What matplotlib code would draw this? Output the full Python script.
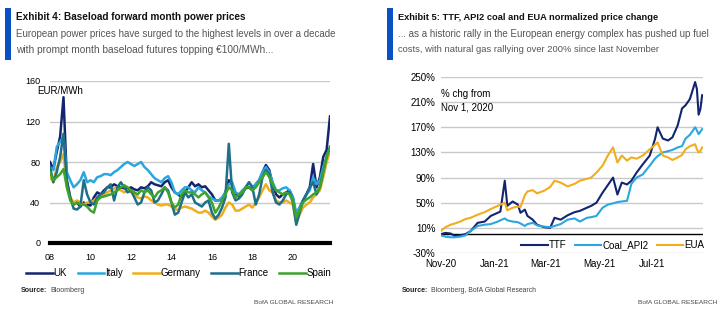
import matplotlib
matplotlib.use("Agg")
import matplotlib.pyplot as plt
import matplotlib.dates as mdates
import matplotlib.ticker as mticker
import numpy as np
import pandas as pd

# ---- Exhibit 4: baseload forward month power prices (bi-monthly, EUR/MWh) ----
POWER_START = 2008.0
POWER_STEP = 1 / 6
uk = [80, 73, 90, 105, 144, 62,
      45, 38, 40, 36, 40, 38,
      37, 45, 50, 48, 52, 55,
      55, 58, 56, 55, 54, 53,
      55, 53, 52, 55, 54, 56,
      60, 58, 57, 56, 60, 62,
      55, 50, 48, 45, 50, 55,
      60, 56, 58, 55, 56, 52,
      48, 42, 42, 44, 50, 62,
      58, 48, 46, 50, 54, 55,
      52, 58, 62, 70, 77, 72,
      58, 48, 45, 48, 50, 52,
      45, 26, 35, 42, 48, 55,
      78, 55, 65, 85, 92, 125]
italy = [75, 72, 95, 100, 105, 70,
         62, 55, 58, 62, 70, 60,
         62, 60, 65, 66, 68, 68,
         67, 70, 72, 75, 78, 80,
         78, 76, 78, 80, 75, 72,
         68, 64, 62, 60, 64, 66,
         60, 50, 48, 52, 55, 55,
         52, 50, 55, 52, 50, 46,
         44, 42, 42, 45, 50, 58,
         60, 50, 48, 52, 55, 60,
         55, 58, 62, 70, 75, 70,
         60, 52, 52, 54, 55, 52,
         45, 30, 35, 42, 48, 52,
         65, 58, 62, 75, 85, 92]
germany = [65, 60, 75, 80, 88, 55,
           45, 40, 42, 40, 38, 40,
           40, 42, 45, 47, 48, 50,
           52, 54, 55, 52, 50, 52,
           50, 48, 45, 44, 46, 45,
           42, 40, 38, 37, 38, 38,
           36, 33, 33, 35, 36, 35,
           34, 32, 30, 30, 32, 30,
           26, 23, 25, 28, 35, 40,
           38, 32, 32, 34, 36, 38,
           35, 40, 45, 52, 58, 52,
           50, 42, 40, 40, 42, 40,
           38, 20, 28, 35, 38, 40,
           45, 48, 52, 65, 80, 90]
france = [75, 60, 70, 85, 108, 60,
          45, 34, 33, 36, 62, 48,
          40, 38, 45, 48, 50, 55,
          58, 42, 55, 60, 55, 50,
          52, 45, 38, 40, 50, 55,
          52, 40, 42, 48, 55, 52,
          40, 28, 30, 40, 50, 45,
          48, 40, 38, 36, 40, 42,
          30, 24, 28, 35, 45, 98,
          50, 42, 44, 48, 55, 60,
          55, 38, 48, 65, 72, 68,
          50, 40, 38, 42, 48, 50,
          40, 18, 30, 42, 48, 55,
          60, 48, 55, 70, 85, 95]
spain = [70, 62, 65, 68, 73, 55,
         42, 38, 40, 38, 38, 36,
         32, 30, 42, 45, 46, 47,
         48, 50, 52, 55, 57, 55,
         52, 50, 48, 52, 50, 52,
         48, 45, 50, 52, 55, 50,
         40, 35, 38, 48, 52, 50,
         50, 48, 45, 48, 50, 45,
         40, 30, 35, 42, 48, 55,
         52, 45, 48, 50, 55, 55,
         52, 55, 60, 65, 70, 65,
         58, 52, 50, 48, 50, 48,
         42, 25, 32, 40, 43, 45,
         48, 50, 55, 70, 85, 95]
power_names = ["UK", "Italy", "Germany", "France", "Spain"]
power_ticks = [2008, 2010, 2012, 2014, 2016, 2018, 2020]
power_ticklabels = ["08", "10", "12", "14", "16", "18", "20"]

# ---- Exhibit 5: % change from Nov 1, 2020 ----
chg_dates = ["2020-11-01", "2020-11-06", "2020-11-12", "2020-11-17", "2020-11-23",
             "2020-11-29", "2020-12-05", "2020-12-13", "2020-12-21", "2020-12-28",
             "2021-01-05", "2021-01-08", "2021-01-13", "2021-01-16", "2021-01-22",
             "2021-01-28", "2021-01-31", "2021-02-05", "2021-02-08", "2021-02-14",
             "2021-02-19", "2021-02-27", "2021-03-06", "2021-03-11", "2021-03-18",
             "2021-03-26", "2021-04-03", "2021-04-09", "2021-04-17", "2021-04-22",
             "2021-04-28", "2021-05-05", "2021-05-11", "2021-05-17", "2021-05-22",
             "2021-05-27", "2021-06-02", "2021-06-07", "2021-06-13", "2021-06-20",
             "2021-06-28", "2021-07-04", "2021-07-07", "2021-07-13", "2021-07-19",
             "2021-07-24", "2021-07-30", "2021-08-04", "2021-08-08", "2021-08-13",
             "2021-08-19", "2021-08-21", "2021-08-23", "2021-08-25", "2021-08-27"]
ttf = [0, 2, 1, -3, -2, 0, 5, 18, 20, 29,
       34, 36, 85, 45, 52, 47, 34, 39, 29, 23,
       15, 11, 10, 26, 23, 30, 35, 37, 42, 45,
       50, 66, 78, 90, 63, 82, 79, 85, 98, 111,
       125, 151, 170, 152, 149, 154, 173, 200, 205, 215,
       242, 231, 190, 199, 221]
coal = [-2, -4, -5, -5, -4, -2, 5, 13, 15, 16,
        20, 22, 25, 22, 20, 19, 17, 13, 16, 18,
        14, 12, 11, 13, 16, 23, 25, 20, 26, 27,
        29, 42, 47, 49, 51, 52, 53, 80, 90, 95,
        109, 120, 124, 130, 132, 134, 138, 140, 152, 158,
        170, 165, 159, 163, 167]
eua = [5, 11, 15, 17, 20, 24, 26, 31, 35, 40,
       45, 47, 50, 38, 42, 44, 43, 62, 68, 70,
       65, 69, 75, 85, 82, 76, 80, 85, 88, 90,
       98, 109, 125, 138, 114, 125, 117, 122, 120, 125,
       135, 142, 146, 125, 122, 118, 122, 126, 135, 140,
       143, 135, 130, 132, 138]
chg_names = ["TTF", "Coal_API2", "EUA"]
chg_ticks = ["2020-11-01", "2021-01-01", "2021-03-01", "2021-05-01", "2021-07-01"]

NAVY = "#13256f"
LIGHT = "#2ba6de"
GOLD = "#f0ad1c"
TEAL = "#1d6f8a"
GREEN = "#3da32a"
BAR = "#0b4fc4"
GRID = "#c9c9c9"
SANS = ["Liberation Sans", "DejaVu Sans"]

W, H = 725, 325
fig = plt.figure(figsize=(W / 100, H / 100), dpi=100)
renderer = fig.canvas.get_renderer()


def fit(t, width_px):
    # shrink/grow a text so its rendered width matches the reference
    w = t.get_window_extent(renderer).width
    t.set_fontsize(t.get_fontsize() * width_px / w)
    return t


def ftext(x, y, s, width_px, **kw):
    t = fig.text(x / W, 1 - y / H, s, family=SANS, va="center", **kw)
    return fit(t, width_px)


def header(x0, title, lines):
    fig.patches.append(plt.Rectangle((x0 / W, 1 - 60 / H), 6 / W, 52 / H,
                                     transform=fig.transFigure, color=BAR, lw=0))
    ftext(x0 + 11, 17, title[0], title[1], weight="bold", color="#111111", fontsize=8)
    for i, (s, w) in enumerate(lines):
        ftext(x0 + 11, 34 + 16 * i, s, w, color="#555555", fontsize=8)


def footer(x_src, x_right, src, w_src):
    ftext(x_src, 290, "Source:", 27, weight="bold", color="#222222", fontsize=6)
    ftext(x_src + 29, 290, src, w_src - 29, color="#444444", fontsize=6)
    ftext(x_right - 79, 302, "BofA GLOBAL RESEARCH", 79, color="#444444", fontsize=6)


header(5, ("Exhibit 4: Baseload forward month power prices", 230),
       [("European power prices have surged to the highest levels in over a decade", 322),
        ("with prompt month baseload futures topping \u20ac100/MWh...", 260)])
header(387, ("Exhibit 5: TTF, API2 coal and EUA normalized price change", 260),
       [("... as a historic rally in the European energy complex has pushed up fuel", 313),
        ("costs, with natural gas rallying over 200% since last November", 263)])
footer(21, 333, "Bloomberg", 64)
footer(402, 717, "Bloomberg, BofA Global Research", 136)

# ---- left panel ----
ax1 = fig.add_axes([50 / W, 1 - 243 / H, 280 / W, 162 / H])
years = POWER_START + POWER_STEP * np.arange(len(uk))
for vals, name, col in zip([uk, italy, germany, france, spain], power_names,
                           [NAVY, LIGHT, GOLD, TEAL, GREEN]):
    ax1.plot(years, vals, color=col, lw=1.8, label=name, solid_joinstyle="round")
ax1.set_xlim(2008, years[-1])
ax1.set_ylim(0, 160)
ax1.set_yticks([0, 40, 80, 120, 160])
ax1.set_xticks(power_ticks)
ax1.set_xticklabels(power_ticklabels)
ax1.grid(axis="y", color=GRID, lw=1)
ax1.set_axisbelow(True)
ax1.axhline(0, color="black", lw=3, clip_on=False, zorder=5)
for s in ax1.spines.values():
    s.set_visible(False)
ax1.tick_params(length=0, labelsize=6.5, pad=7)
for lab in ax1.get_xticklabels() + ax1.get_yticklabels():
    lab.set_family(SANS)
ax1.text(-13 / 280, 0.94, "EUR/MWh", transform=ax1.transAxes,
         family=SANS, fontsize=7, va="center", ha="left")
ax1.legend(loc="center", bbox_to_anchor=(0.46, -0.185), ncol=5, frameon=False,
           prop={"family": SANS, "size": 7}, handlelength=2.7, handletextpad=0.1,
           columnspacing=1.1, borderaxespad=0)

# ---- right panel ----
ax2 = fig.add_axes([441 / W, 1 - 253 / H, 262 / W, 176 / H])
d = pd.to_datetime(chg_dates)
for vals, name, col in zip([ttf, coal, eua], chg_names, [NAVY, LIGHT, GOLD]):
    ax2.plot(d, vals, color=col, lw=1.5, label=name)
ax2.set_xlim(pd.Timestamp("2020-11-01"), pd.Timestamp("2021-08-28"))
ax2.set_ylim(-30, 250)
ax2.set_yticks(np.arange(-30, 251, 40))
ax2.yaxis.set_major_formatter(mticker.FuncFormatter(lambda v, p: f"{v:.0f}%"))
ax2.set_xticks(pd.to_datetime(chg_ticks))
ax2.xaxis.set_major_formatter(mdates.DateFormatter("%b-%y"))
ax2.grid(axis="y", color=GRID, lw=1)
ax2.set_axisbelow(True)
ax2.axhline(0, color="black", lw=1, zorder=1)
for s in ax2.spines.values():
    s.set_visible(False)
ax2.tick_params(length=0, labelsize=7, pad=4)
for lab in ax2.get_xticklabels() + ax2.get_yticklabels():
    lab.set_family(SANS)
ax2.text(0.0, 0.864, "% chg from\nNov 1, 2020", transform=ax2.transAxes,
         family=SANS, fontsize=7, va="center", ha="left", linespacing=1.5)
ax2.legend(loc="center right", bbox_to_anchor=(1.02, 0.045), ncol=3, frameon=False,
           prop={"family": SANS, "size": 7}, handlelength=2.7, handletextpad=0.1,
           columnspacing=0.9, borderaxespad=0)

fig.savefig("out.png", dpi=100)
